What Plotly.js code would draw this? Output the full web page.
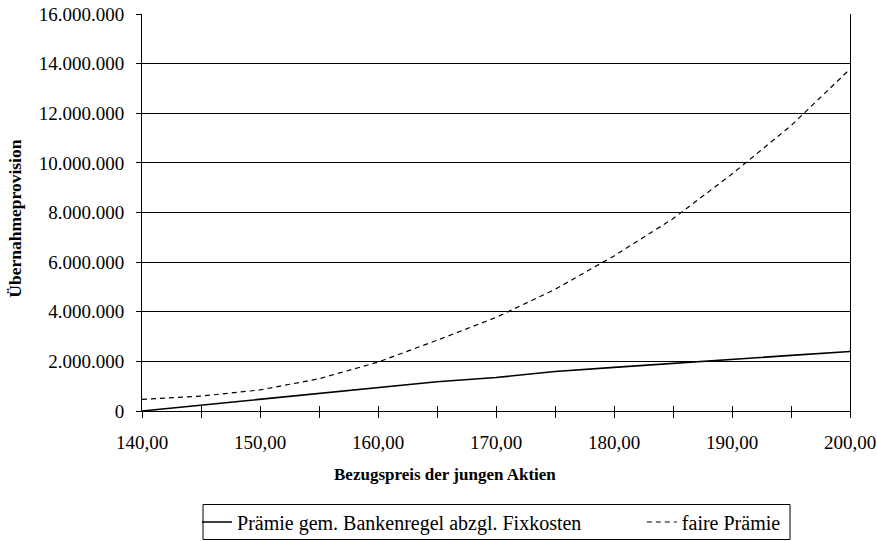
<!DOCTYPE html>
<html>
<head>
<meta charset="utf-8">
<script src="https://cdn.plot.ly/plotly-3.0.1.min.js"></script>
<style>html,body{margin:0;padding:0;background:#fff;}</style>
</head>
<body>
<div id="chart" style="width:877px;height:541px;"></div>
<script>
const bezugspreis = [140, 145, 150, 155, 160, 165, 170, 175, 180, 185, 190, 195, 200];
const praemieBankenregel = [0, 240000, 490000, 710000, 970000, 1180000, 1350000, 1590000, 1760000, 1910000, 2070000, 2240000, 2400000];
const fairePraemie = [470000, 600000, 850000, 1300000, 1970000, 2850000, 3770000, 4900000, 6250000, 7750000, 9550000, 11500000, 13780000];
const seriesNames = ["Prämie gem. Bankenregel abzgl. Fixkosten", "faire Prämie"];
const xTitle = "Bezugspreis der jungen Aktien";
const yTitle = "Übernahmeprovision";

const FONT = "'Liberation Serif', 'Times New Roman', serif";

const traces = [
  {x: bezugspreis, y: praemieBankenregel, name: seriesNames[0], type: "scatter", mode: "lines",
   legend: "legend", line: {color: "#000", width: 1.6}},
  {x: bezugspreis, y: fairePraemie, name: seriesNames[1], type: "scatter", mode: "lines",
   legend: "legend2", line: {color: "#000", width: 1.2, dash: "5px,4px"}},
  {x: [140, 200], y: [null, null], xaxis: "x2", yaxis: "y", showlegend: false, hoverinfo: "skip", type: "scatter", mode: "lines"}
];

const legendStyle = {
  orientation: "h", yanchor: "middle", xanchor: "left", y: -0.2796,
  borderwidth: 0, bgcolor: "rgba(0,0,0,0)",
  font: {family: FONT, size: 20, color: "#000"}
};

const layout = {
  width: 877, height: 541,
  margin: {l: 142, r: 27, t: 14, b: 129.5, autoexpand: false},
  paper_bgcolor: "#fff", plot_bgcolor: "#fff",
  separators: ",.",
  font: {family: FONT, size: 19, color: "#000"},
  showlegend: true,
  xaxis: {
    range: [140, 200], dtick: 10, tick0: 140, tickformat: ".2f",
    showgrid: false, zeroline: false,
    showline: true, linecolor: "#000", linewidth: 1,
    ticks: "outside", ticklen: 6, tickcolor: "#000", tickwidth: 1,
    minor: {dtick: 5, tick0: 140, ticks: "outside", ticklen: 6, tickcolor: "#000", tickwidth: 1, showgrid: false},
    tickfont: {family: FONT, size: 19, color: "#000"},
    ticklabelstandoff: 8
  },
  xaxis2: {
    overlaying: "x", anchor: "y", side: "bottom",
    range: [140, 200], dtick: 5, tick0: 140,
    showgrid: false, zeroline: false, showline: false, showticklabels: false,
    ticks: "inside", ticklen: 5, tickcolor: "#000", tickwidth: 1
  },
  yaxis: {
    range: [0, 16000000], dtick: 2000000, tickformat: ",d",
    showgrid: true, gridcolor: "#000", gridwidth: 1,
    zeroline: false,
    showline: true, linecolor: "#000", linewidth: 1, mirror: true,
    ticks: "outside", ticklen: 5, tickcolor: "#000", tickwidth: 1,
    tickfont: {family: FONT, size: 19, color: "#000"},
    ticklabelstandoff: 8
  },
  legend: Object.assign({}, legendStyle, {x: 0.0777}),
  legend2: Object.assign({}, legendStyle, {x: 0.706}),
  shapes: [
    {type: "rect", xref: "paper", yref: "paper", x0: 0.0862, x1: 0.9153, y0: -0.3237, y1: -0.2355,
     line: {color: "#000", width: 1}, fillcolor: "rgba(0,0,0,0)", layer: "below"}
  ],
  annotations: [
    {text: "<b>" + xTitle + "</b>", xref: "paper", yref: "paper", x: 0.428, y: -0.161,
     xanchor: "center", yanchor: "middle", showarrow: false,
     font: {family: FONT, size: 17, color: "#000"}},
    {text: "<b>" + yTitle + "</b>", xref: "paper", yref: "paper", x: -0.179, y: 0.485,
     xanchor: "center", yanchor: "middle", showarrow: false, textangle: -90,
     font: {family: FONT, size: 17.5, color: "#000"}}
  ]
};

Plotly.newPlot("chart", traces, layout, {displayModeBar: false, staticPlot: true});
</script>
</body>
</html>
